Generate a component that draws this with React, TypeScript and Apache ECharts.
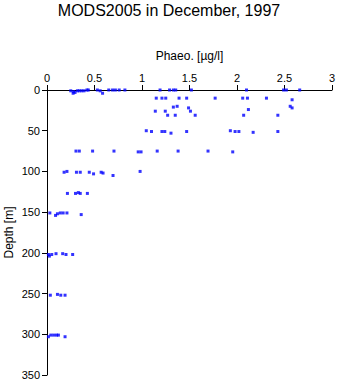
import React, { useEffect, useRef } from "react";
import * as echarts from "echarts";

const titleText = "MODS2005 in December, 1997";
const xAxisName = "Phaeo. [µg/l]";
const yAxisName = "Depth [m]";

const phaeo = [
  0.25, 0.275, 0.28, 0.295, 0.32, 0.34, 0.365, 0.39, 0.42, 0.435,
  0.53, 0.56, 0.585, 0.65, 0.69, 0.72, 0.76, 0.82,
  1.19, 1.29, 1.33, 1.355, 1.52, 2.1, 2.49, 2.52, 2.66,
  1.15, 1.21, 1.25, 1.39, 1.47, 1.77, 2.06, 2.11, 2.31, 2.58,
  1.33, 1.37, 1.49, 2.12, 2.56, 2.58,
  1.14, 1.245, 1.51,
  1.27, 1.35, 1.56, 2.07, 2.43,
  1.045, 1.1, 1.21, 1.24, 1.305, 1.47, 1.93, 1.98, 2.02, 2.17, 2.43,
  0.305, 0.34, 0.48, 0.705, 0.96, 0.99, 1.16, 1.38, 1.695, 1.955,
  0.18, 0.21, 0.31, 0.35, 0.445, 0.49, 0.57, 0.59, 0.695, 0.98,
  0.215, 0.3, 0.33, 0.35, 0.425,
  0.03, 0.09, 0.11, 0.14, 0.17, 0.21, 0.36,
  0.015, 0.025, 0.05, 0.095, 0.165, 0.2, 0.27,
  0.035, 0.11, 0.145, 0.19,
  0.015, 0.04, 0.07, 0.1, 0.12, 0.19,
];

const depth = [
  1, 4, 2, 3, 1, 1, 1, 1, 0, 0,
  0, 1, 4, 0, 0, 0, 0, 0,
  0, 0, 0, 0, 0, 0, 0, 0, 0,
  10, 10, 10, 10, 10, 10, 10, 10, 10, 12,
  21, 20, 22, 24, 20, 22,
  26, 26, 26,
  31, 31, 31, 31, 31,
  50, 51, 51, 51, 53, 51, 50, 51, 51, 52, 51,
  75, 75, 75, 75, 76, 76, 75, 75, 75, 76,
  101, 100, 101, 101, 101, 103, 101, 102, 105, 100,
  127, 127, 126, 127, 127,
  151, 154, 152, 151, 151, 151, 153,
  202, 204, 202, 201, 201, 202, 202,
  252, 251, 252, 252,
  303, 301, 301, 301, 301, 303,
];

export default function App() {
  const ref = useRef<HTMLDivElement>(null);
  useEffect(() => {
    if (!ref.current) return;
    const chart = echarts.init(ref.current, undefined, { renderer: "svg" });
    const font = "'Liberation Sans', Arial, sans-serif";
    const data = phaeo.map((v, i) => [v, depth[i]]);
    chart.setOption({
      animation: false,
      backgroundColor: "#ffffff",
      title: {
        text: titleText,
        left: "center",
        top: -3,
        textStyle: { fontFamily: font, fontSize: 16, fontWeight: "normal", color: "#000" },
      },
      grid: { left: 47, top: 90, width: 285, height: 285, containLabel: false, outerBoundsMode: "none" },
      xAxis: {
        type: "value",
        position: "top",
        min: 0,
        max: 3,
        interval: 0.5,
        name: xAxisName,
        nameLocation: "middle",
        nameGap: 28,
        nameMoveOverlap: false,
        nameTextStyle: { fontFamily: font, fontSize: 12, color: "#000" },
        axisLine: { show: true, onZero: false, lineStyle: { color: "#000", width: 1 } },
        axisTick: { show: true, length: 5, lineStyle: { color: "#000" } },
        axisLabel: { fontFamily: font, fontSize: 11, color: "#000", margin: 7 },
        splitLine: { show: false },
      },
      yAxis: {
        type: "value",
        inverse: true,
        min: 0,
        max: 350,
        interval: 50,
        name: yAxisName,
        nameLocation: "middle",
        nameGap: 32,
        nameMoveOverlap: false,
        nameTextStyle: { fontFamily: font, fontSize: 12, color: "#000", lineHeight: 12 },
        axisLine: { show: true, onZero: false, lineStyle: { color: "#000", width: 1 } },
        axisTick: { show: true, length: 5, lineStyle: { color: "#000" } },
        axisLabel: { fontFamily: font, fontSize: 11, color: "#000", margin: 7 },
        splitLine: { show: false },
      },
      series: [
        {
          type: "scatter",
          data,
          symbol: "rect",
          symbolSize: 3,
          itemStyle: { color: "#0000ff" },
        },
      ],
    });
    return () => chart.dispose();
  }, []);
  return (
    <div
      ref={ref}
      style={{ position: "fixed", left: 0, top: 0, width: 338, height: 384, background: "#fff" }}
    />
  );
}
